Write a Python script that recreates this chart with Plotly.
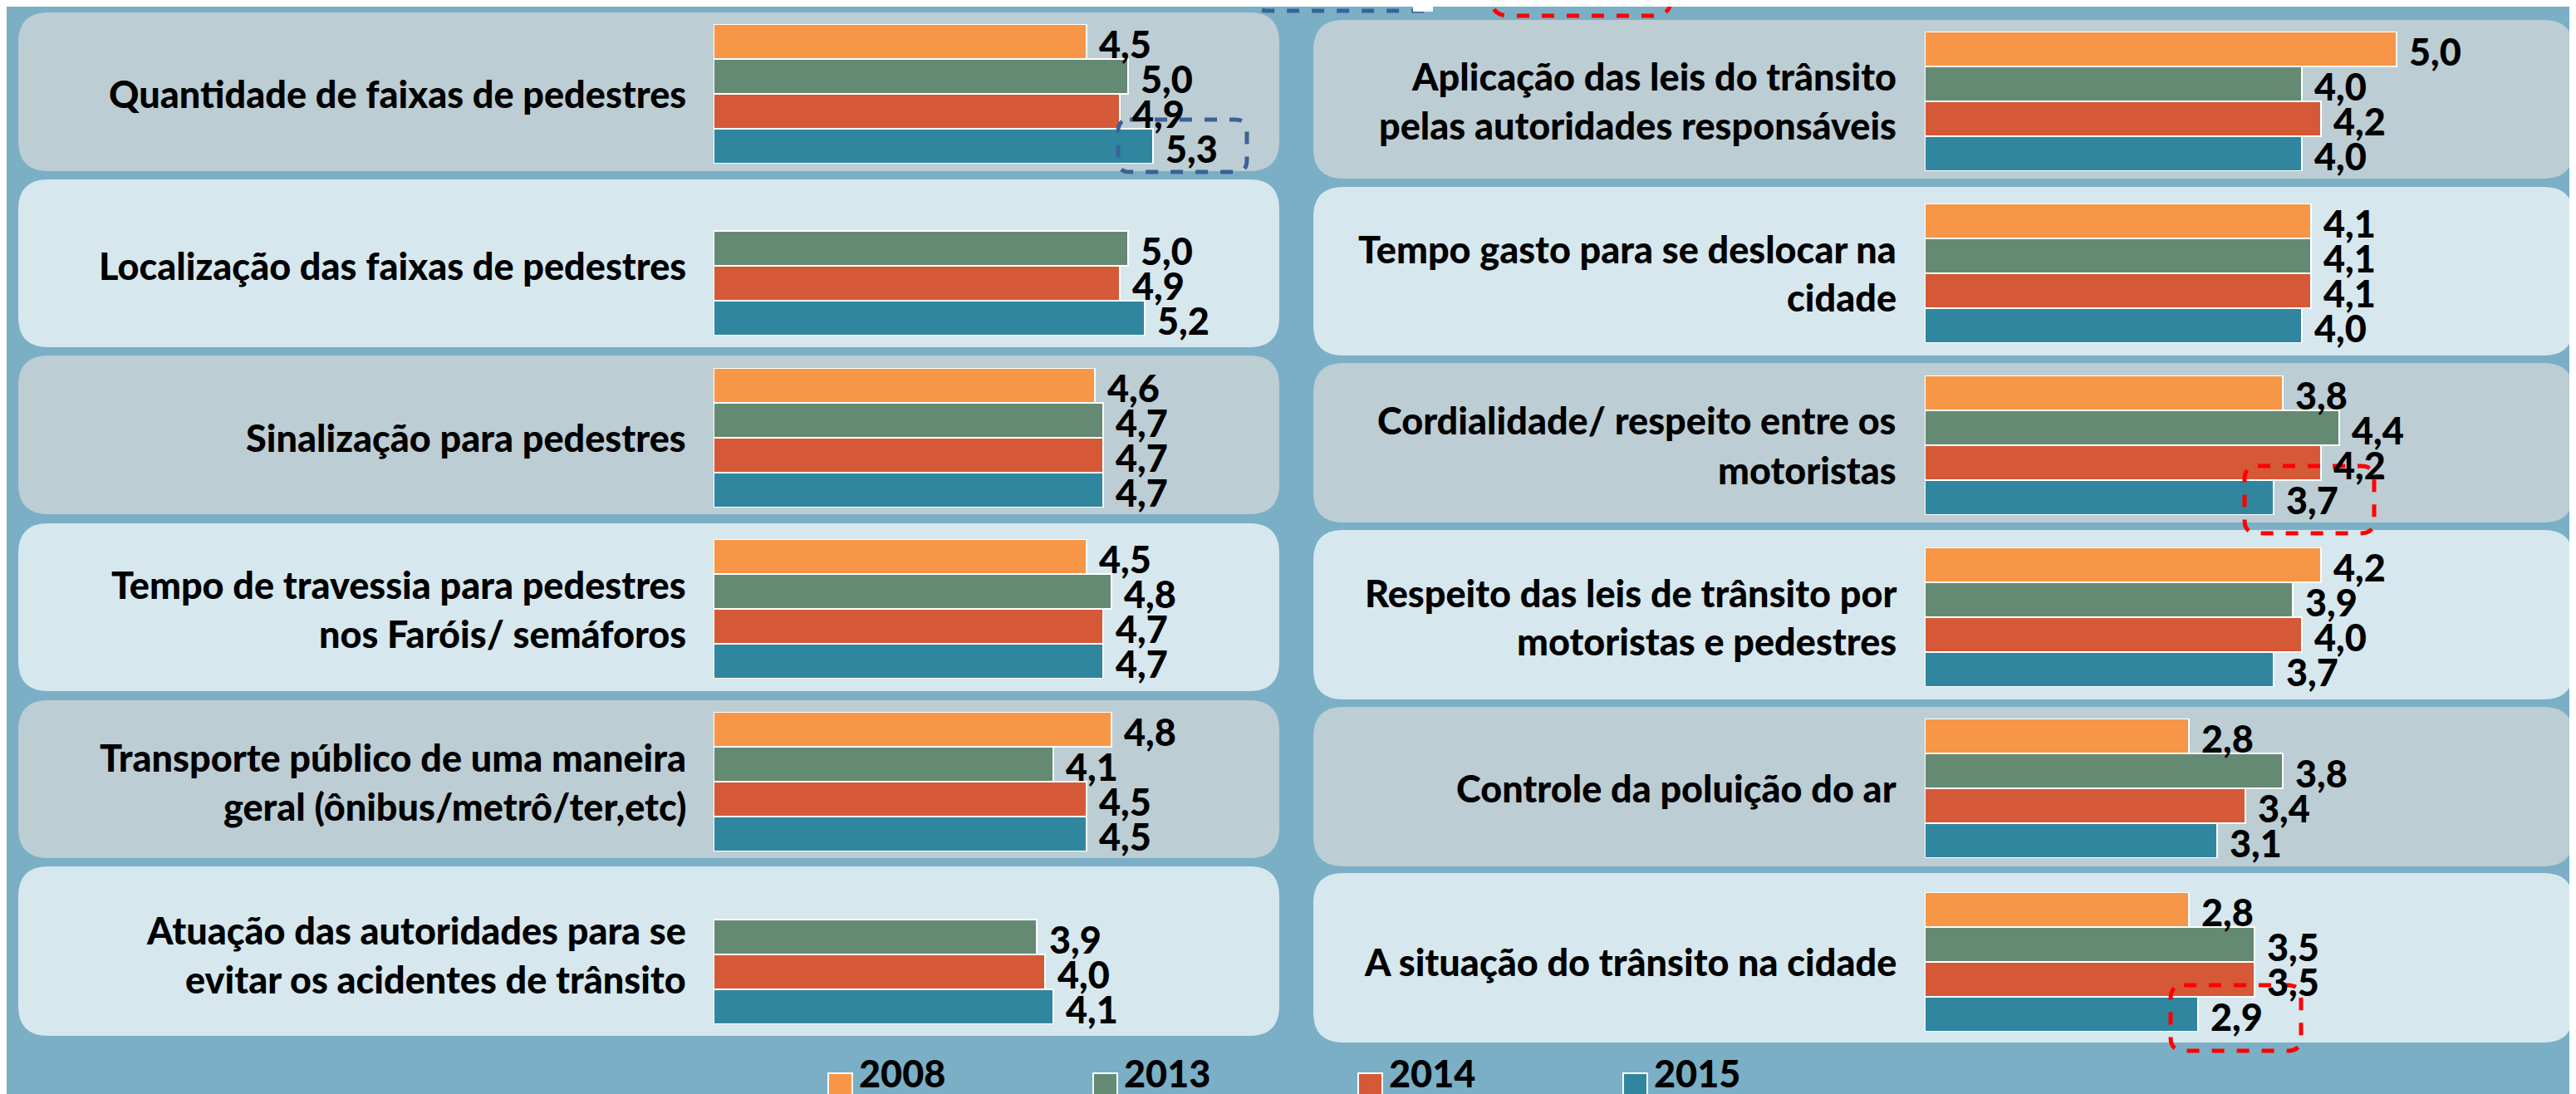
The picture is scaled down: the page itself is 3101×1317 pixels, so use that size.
import plotly.graph_objects as go

W, H = 3101, 1317

# ---------------- data ----------------
years = ["2008", "2013", "2014", "2015"]
colors = ["#F79646", "#658A73", "#D55936", "#31869F"]

left_labels = [
    "Quantidade de faixas de pedestres",
    "Localização das faixas de pedestres",
    "Sinalização para pedestres",
    "Tempo de travessia para pedestres<br>nos Faróis/ semáforos",
    "Transporte público de uma maneira<br>geral (ônibus/metrô/ter,etc)",
    "Atuação das autoridades para se<br>evitar os acidentes de trânsito",
]
left_values = [
    [4.5, 5.0, 4.9, 5.3],
    [None, 5.0, 4.9, 5.2],
    [4.6, 4.7, 4.7, 4.7],
    [4.5, 4.8, 4.7, 4.7],
    [4.8, 4.1, 4.5, 4.5],
    [None, 3.9, 4.0, 4.1],
]
right_labels = [
    "Aplicação das leis do trânsito<br>pelas autoridades responsáveis",
    "Tempo gasto para se deslocar na<br>cidade",
    "Cordialidade/ respeito entre os<br>motoristas",
    "Respeito das leis de trânsito por<br>motoristas e pedestres",
    "Controle da poluição do ar",
    "A situação do trânsito na cidade",
]
right_values = [
    [5.0, 4.0, 4.2, 4.0],
    [4.1, 4.1, 4.1, 4.0],
    [3.8, 4.4, 4.2, 3.7],
    [4.2, 3.9, 4.0, 3.7],
    [2.8, 3.8, 3.4, 3.1],
    [2.8, 3.5, 3.5, 2.9],
]

# ---------------- layout geometry (pixels, y from top) ----------------
BG = "#7AAFC6"
PANEL_DARK = "#BCCDD4"
PANEL_LIGHT = "#D6E7EE"
FONT = "Lato"
WEIGHT = 900
LABEL_SIZE = 45
VALUE_SIZE = 45

left_panel_x = (14, 1532)
right_panel_x = (1573, 3090)
left_panels_y = [(7, 198), (208, 410), (420, 611), (622, 824), (835, 1025), (1035, 1239)]
right_panels_y = [(16, 207), (217, 420), (429, 621), (630, 834), (843, 1035), (1043, 1247)]
left_bar_top = [21, 228, 435, 641, 849, 1057]
right_bar_top = [30, 237, 444, 651, 857, 1066]
SLOT = 42
left_x0, left_ppu = 851, 99.8
right_x0, right_ppu = 2309, 113.5
XMAX = 6.0
left_label_right = 820
right_label_right = 2277
LINE_GAP = 59


def px(x):
    return x / W


def py(y):
    return 1 - y / H


def rrect(x0, y0, x1, y1, r):
    return (
        f"M{px(x0 + r)},{py(y0)} L{px(x1 - r)},{py(y0)} "
        f"Q{px(x1)},{py(y0)} {px(x1)},{py(y0 + r)} "
        f"L{px(x1)},{py(y1 - r)} Q{px(x1)},{py(y1)} {px(x1 - r)},{py(y1)} "
        f"L{px(x0 + r)},{py(y1)} Q{px(x0)},{py(y1)} {px(x0)},{py(y1 - r)} "
        f"L{px(x0)},{py(y0 + r)} Q{px(x0)},{py(y0)} {px(x0 + r)},{py(y0)} Z"
    )


fig = go.Figure()
shapes = []
annotations = []
layout_axes = {}

panels = []
for i in range(6):
    panels.append(dict(label=left_labels[i], values=left_values[i], px_x=left_panel_x,
                       px_y=left_panels_y[i], bar_top=left_bar_top[i], x0=left_x0,
                       ppu=left_ppu, label_right=left_label_right,
                       fill=PANEL_DARK if i % 2 == 0 else PANEL_LIGHT))
for i in range(6):
    panels.append(dict(label=right_labels[i], values=right_values[i], px_x=right_panel_x,
                       px_y=right_panels_y[i], bar_top=right_bar_top[i], x0=right_x0,
                       ppu=right_ppu, label_right=right_label_right,
                       fill=PANEL_DARK if i % 2 == 0 else PANEL_LIGHT))

for k, p in enumerate(panels, start=1):
    xa = "x" if k == 1 else f"x{k}"
    ya = "y" if k == 1 else f"y{k}"
    # panel background
    shapes.append(dict(type="path", xref="paper", yref="paper",
                       path=rrect(p["px_x"][0], p["px_y"][0], p["px_x"][1], p["px_y"][1], 36),
                       fillcolor=p["fill"], line=dict(width=0), layer="below"))
    # bars
    fig.add_trace(go.Bar(
        x=p["values"], y=years, orientation="h", xaxis=xa, yaxis=ya,
        marker=dict(color=colors, line=dict(color="white", width=2)),
        showlegend=False,
    ))
    btop = p["bar_top"]
    bbot = btop + 4 * SLOT
    x1 = p["x0"] + XMAX * p["ppu"]
    layout_axes["xaxis" if k == 1 else f"xaxis{k}"] = dict(
        domain=[px(p["x0"]), px(x1)], range=[0, XMAX], visible=False,
        anchor=ya, fixedrange=True)
    layout_axes["yaxis" if k == 1 else f"yaxis{k}"] = dict(
        domain=[py(bbot), py(btop)], range=[3.5, -0.5], visible=False,
        type="category", categoryorder="array", categoryarray=years,
        anchor=xa, fixedrange=True)
    # value labels (category axis: position by category index)
    for j, v in enumerate(p["values"]):
        if v is None:
            continue
        annotations.append(dict(
            x=v, y=j, xref=xa, yref=ya, xanchor="left", yanchor="middle",
            xshift=13, yshift=-3, showarrow=False,
            text=f"{v:.1f}".replace(".", ","),
            font=dict(family=FONT, size=VALUE_SIZE, color="black", weight=WEIGHT)))
    # category label (one annotation per line)
    lines = p["label"].split("<br>")
    cy = (btop + bbot) / 2
    n = len(lines)
    for j, line in enumerate(lines):
        yy = cy + (j - (n - 1) / 2) * LINE_GAP
        annotations.append(dict(
            x=px(p["label_right"]), y=py(yy), xref="paper", yref="paper",
            xanchor="right", yanchor="middle", showarrow=False, text=line,
            font=dict(family=FONT, size=LABEL_SIZE, color="black", weight=WEIGHT)))

# highlight dashed boxes
RED = "#FF0000"
BLUE = "#3A6296"
shapes.append(dict(type="path", xref="paper", yref="paper",
                   path=rrect(1338, 136, 1493, 199, 14),
                   line=dict(color=BLUE, width=5, dash="dash"), fillcolor="rgba(0,0,0,0)"))
shapes.append(dict(type="path", xref="paper", yref="paper",
                   path=rrect(2694, 553, 2850, 634, 16),
                   line=dict(color=RED, width=5, dash="dash"), fillcolor="rgba(0,0,0,0)"))
shapes.append(dict(type="path", xref="paper", yref="paper",
                   path=rrect(2605, 1178, 2762, 1257, 16),
                   line=dict(color=RED, width=5, dash="dash"), fillcolor="rgba(0,0,0,0)"))
# boxes cut off at the top edge
shapes.append(dict(type="path", xref="paper", yref="paper",
                   path=rrect(1504, -60, 1720, 5, 14),
                   line=dict(color=BLUE, width=5, dash="dash"), fillcolor="rgba(0,0,0,0)"))
shapes.append(dict(type="rect", xref="paper", yref="paper",
                   x0=px(1693), x1=px(1717), y0=py(6), y1=py(-2),
                   fillcolor="white", line=dict(width=0)))
shapes.append(dict(type="path", xref="paper", yref="paper",
                   path=rrect(1787, -60, 2004, 11, 22),
                   line=dict(color=RED, width=5, dash="dash"), fillcolor="rgba(0,0,0,0)"))

# legend (drawn)
legend_sq_x = [989, 1308, 1627, 1946]
for yr, c, lx in zip(years, colors, legend_sq_x):
    shapes.append(dict(type="rect", xref="paper", yref="paper",
                       x0=px(lx), x1=px(lx + 29), y0=py(1313), y1=py(1284),
                       fillcolor=c, line=dict(color="white", width=2)))
    annotations.append(dict(
        x=px(lx + 35), y=py(1284), xref="paper", yref="paper",
        xanchor="left", yanchor="middle", showarrow=False, text=yr,
        font=dict(family=FONT, size=45, color="black", weight=WEIGHT)))

fig.update_layout(
    width=W, height=H,
    margin=dict(l=0, r=0, t=0, b=0),
    paper_bgcolor=BG, plot_bgcolor="rgba(0,0,0,0)",
    bargap=0, showlegend=False,
    shapes=shapes, annotations=annotations,
    **layout_axes,
)

fig.write_html("out.html")
